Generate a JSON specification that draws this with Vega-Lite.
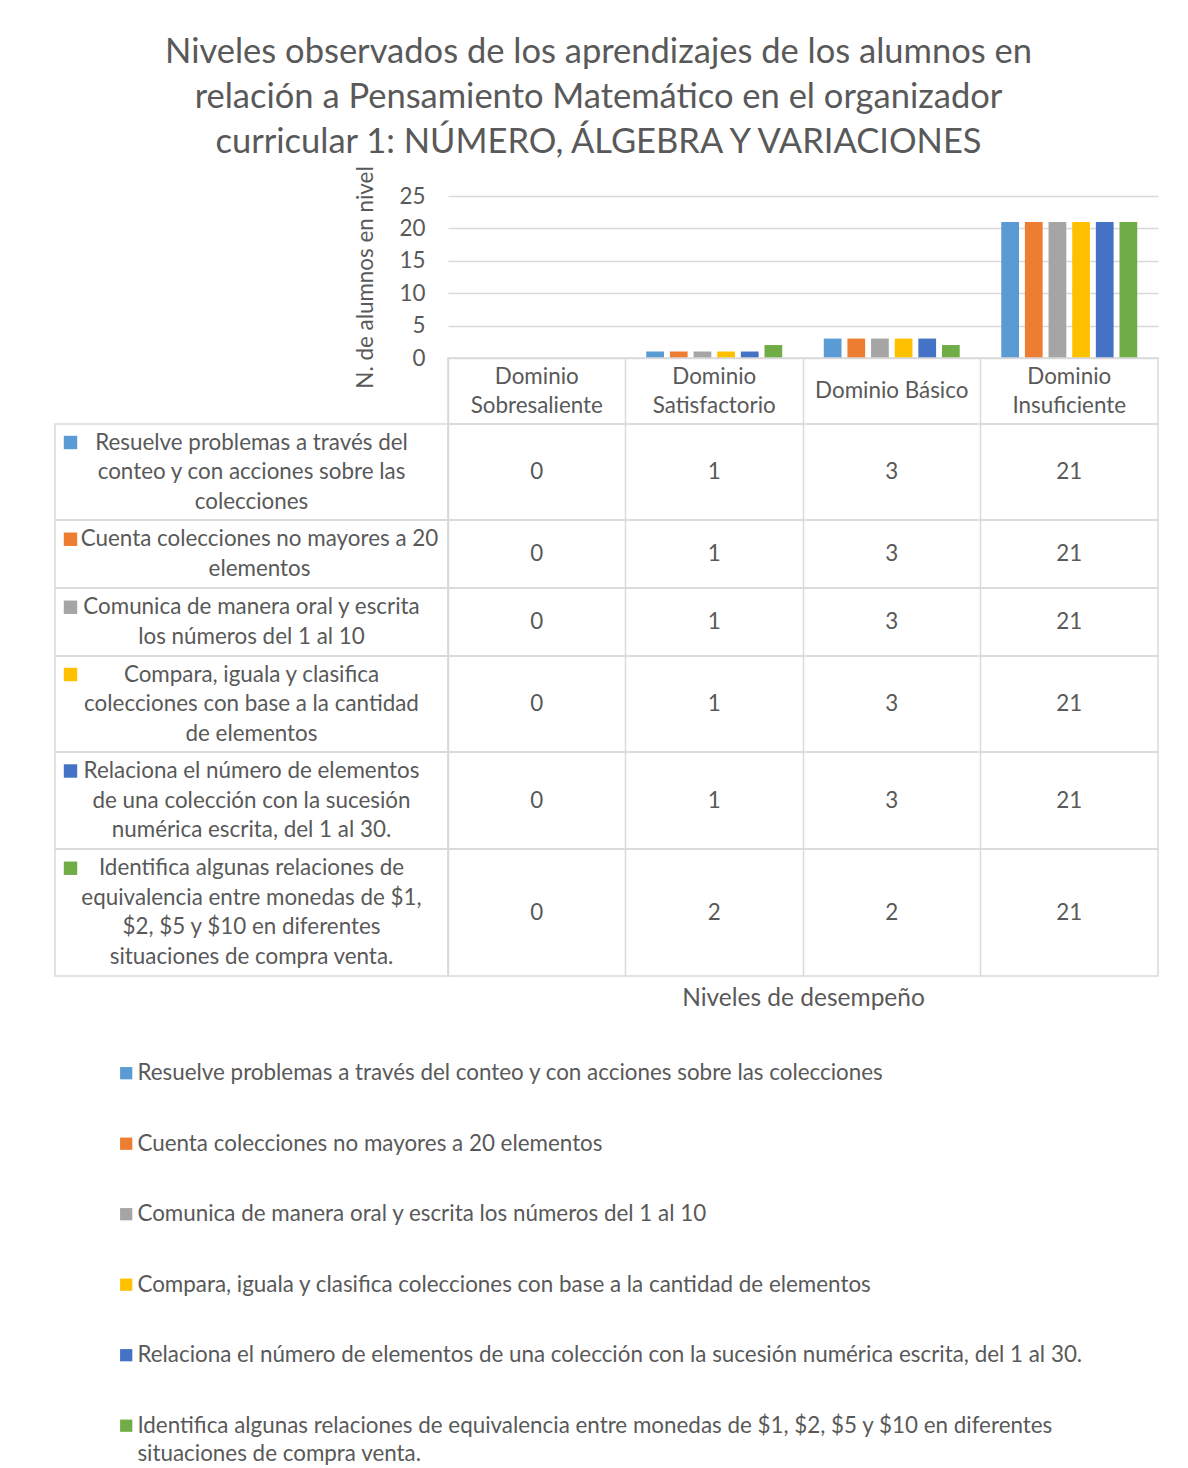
{
  "$schema": "https://vega.github.io/schema/vega-lite/v6.json",
  "padding": {"left": 54, "top": 35, "right": 20, "bottom": 0},
  "background": "white",
  "title": {
    "text": ["Niveles observados de los aprendizajes de los alumnos en", "relación a Pensamiento Matemático en el organizador", "curricular 1: NÚMERO, ÁLGEBRA Y VARIACIONES"],
    "fontSize": 34.5, "lineHeight": 45, "fontWeight": "normal", "color": "#595959", "anchor": "middle", "offset": 2, "dx": -8
  },
  "datasets": {
    "d": [
      {"serie": "Resuelve problemas a través del conteo y con acciones sobre las colecciones", "nivel": "Dominio Sobresaliente", "alumnos": 0},
      {"serie": "Resuelve problemas a través del conteo y con acciones sobre las colecciones", "nivel": "Dominio Satisfactorio", "alumnos": 1},
      {"serie": "Resuelve problemas a través del conteo y con acciones sobre las colecciones", "nivel": "Dominio Básico", "alumnos": 3},
      {"serie": "Resuelve problemas a través del conteo y con acciones sobre las colecciones", "nivel": "Dominio Insuficiente", "alumnos": 21},
      {"serie": "Cuenta colecciones no mayores a 20 elementos", "nivel": "Dominio Sobresaliente", "alumnos": 0},
      {"serie": "Cuenta colecciones no mayores a 20 elementos", "nivel": "Dominio Satisfactorio", "alumnos": 1},
      {"serie": "Cuenta colecciones no mayores a 20 elementos", "nivel": "Dominio Básico", "alumnos": 3},
      {"serie": "Cuenta colecciones no mayores a 20 elementos", "nivel": "Dominio Insuficiente", "alumnos": 21},
      {"serie": "Comunica de manera oral y escrita los números del 1 al 10", "nivel": "Dominio Sobresaliente", "alumnos": 0},
      {"serie": "Comunica de manera oral y escrita los números del 1 al 10", "nivel": "Dominio Satisfactorio", "alumnos": 1},
      {"serie": "Comunica de manera oral y escrita los números del 1 al 10", "nivel": "Dominio Básico", "alumnos": 3},
      {"serie": "Comunica de manera oral y escrita los números del 1 al 10", "nivel": "Dominio Insuficiente", "alumnos": 21},
      {"serie": "Compara, iguala y clasifica colecciones con base a la cantidad de elementos", "nivel": "Dominio Sobresaliente", "alumnos": 0},
      {"serie": "Compara, iguala y clasifica colecciones con base a la cantidad de elementos", "nivel": "Dominio Satisfactorio", "alumnos": 1},
      {"serie": "Compara, iguala y clasifica colecciones con base a la cantidad de elementos", "nivel": "Dominio Básico", "alumnos": 3},
      {"serie": "Compara, iguala y clasifica colecciones con base a la cantidad de elementos", "nivel": "Dominio Insuficiente", "alumnos": 21},
      {"serie": "Relaciona el número de elementos de una colección con la sucesión numérica escrita, del 1 al 30.", "nivel": "Dominio Sobresaliente", "alumnos": 0},
      {"serie": "Relaciona el número de elementos de una colección con la sucesión numérica escrita, del 1 al 30.", "nivel": "Dominio Satisfactorio", "alumnos": 1},
      {"serie": "Relaciona el número de elementos de una colección con la sucesión numérica escrita, del 1 al 30.", "nivel": "Dominio Básico", "alumnos": 3},
      {"serie": "Relaciona el número de elementos de una colección con la sucesión numérica escrita, del 1 al 30.", "nivel": "Dominio Insuficiente", "alumnos": 21},
      {"serie": "Identifica algunas relaciones de equivalencia entre monedas de $1, $2, $5 y $10 en diferentes situaciones de compra venta.", "nivel": "Dominio Sobresaliente", "alumnos": 0},
      {"serie": "Identifica algunas relaciones de equivalencia entre monedas de $1, $2, $5 y $10 en diferentes situaciones de compra venta.", "nivel": "Dominio Satisfactorio", "alumnos": 2},
      {"serie": "Identifica algunas relaciones de equivalencia entre monedas de $1, $2, $5 y $10 en diferentes situaciones de compra venta.", "nivel": "Dominio Básico", "alumnos": 2},
      {"serie": "Identifica algunas relaciones de equivalencia entre monedas de $1, $2, $5 y $10 en diferentes situaciones de compra venta.", "nivel": "Dominio Insuficiente", "alumnos": 21}
    ],
    "series": [
      {"serie": "Resuelve problemas a través del conteo y con acciones sobre las colecciones", "tabla": "Resuelve problemas a través del\nconteo y con acciones sobre las\ncolecciones"},
      {"serie": "Cuenta colecciones no mayores a 20 elementos", "tabla": "Cuenta colecciones no mayores a 20\nelementos"},
      {"serie": "Comunica de manera oral y escrita los números del 1 al 10", "tabla": "Comunica de manera oral y escrita\nlos números del 1 al 10"},
      {"serie": "Compara, iguala y clasifica colecciones con base a la cantidad de elementos", "tabla": "Compara, iguala y clasifica\ncolecciones con base a la cantidad\nde elementos"},
      {"serie": "Relaciona el número de elementos de una colección con la sucesión numérica escrita, del 1 al 30.", "tabla": "Relaciona el número de elementos\nde una colección con la sucesión\nnumérica escrita, del 1 al 30."},
      {"serie": "Identifica algunas relaciones de equivalencia entre monedas de $1, $2, $5 y $10 en diferentes situaciones de compra venta.", "tabla": "Identifica algunas relaciones de\nequivalencia entre monedas de $1,\n$2, $5 y $10 en diferentes\nsituaciones de compra venta."}
    ],
    "niveles": [
      {"nivel": "Dominio Sobresaliente", "encabezado": "Dominio\nSobresaliente"},
      {"nivel": "Dominio Satisfactorio", "encabezado": "Dominio\nSatisfactorio"},
      {"nivel": "Dominio Básico", "encabezado": "Dominio Básico"},
      {"nivel": "Dominio Insuficiente", "encabezado": "Dominio\nInsuficiente"}
    ]
  },
  "columns": 2,
  "spacing": 0,
  "bounds": "flush",
  "align": "each",
  "concat": [
    {
      "width": 393, "height": 162, "view": {"stroke": null},
      "data": {"values": [{}]},
      "mark": {"type": "text"},
      "encoding": {"text": {"value": ""}}
    },
    {
      "width": 710, "height": 162, "view": {"stroke": null},
      "data": {"name": "d"},
      "mark": {"type": "bar"},
      "encoding": {
        "x": {"field": "nivel", "type": "nominal", "sort": ["Dominio Sobresaliente", "Dominio Satisfactorio", "Dominio Básico", "Dominio Insuficiente"], "scale": {"paddingInner": 0.234, "paddingOuter": 0.117}, "axis": null},
        "xOffset": {"field": "serie", "type": "nominal", "sort": null, "scale": {"paddingInner": 0.25, "paddingOuter": 0, "domain": ["Resuelve problemas a través del conteo y con acciones sobre las colecciones", "Cuenta colecciones no mayores a 20 elementos", "Comunica de manera oral y escrita los números del 1 al 10", "Compara, iguala y clasifica colecciones con base a la cantidad de elementos", "Relaciona el número de elementos de una colección con la sucesión numérica escrita, del 1 al 30.", "Identifica algunas relaciones de equivalencia entre monedas de $1, $2, $5 y $10 en diferentes situaciones de compra venta."]}},
        "y": {"field": "alumnos", "type": "quantitative", "scale": {"domain": [0, 25], "nice": false},
          "axis": {"values": [0, 5, 10, 15, 20, 25], "title": "N. de alumnos en  nivel", "grid": true, "gridColor": "#d9d9d9", "domain": false, "ticks": false, "labelPadding": 23, "labelFontSize": 22.4, "labelColor": "#595959", "titleFontSize": 22.4, "titleColor": "#595959", "titleFontWeight": "normal", "titlePadding": 22}},
        "color": {"field": "serie", "type": "nominal",
          "scale": {"domain": ["Resuelve problemas a través del conteo y con acciones sobre las colecciones", "Cuenta colecciones no mayores a 20 elementos", "Comunica de manera oral y escrita los números del 1 al 10", "Compara, iguala y clasifica colecciones con base a la cantidad de elementos", "Relaciona el número de elementos de una colección con la sucesión numérica escrita, del 1 al 30.", "Identifica algunas relaciones de equivalencia entre monedas de $1, $2, $5 y $10 en diferentes situaciones de compra venta."], "range": ["#5B9BD5", "#ED7D31", "#A5A5A5", "#FFC000", "#4472C4", "#70AD47"]},
          "legend": {"orient": "none", "legendX": 60, "legendY": 866, "title": null, "symbolType": "square", "symbolSize": 150, "symbolStrokeWidth": 0, "labelFontSize": 22.4, "labelColor": "#595959", "labelLimit": 1100, "labelOffset": 0, "rowPadding": 47.5,
            "labelExpr": "datum.label == 'Identifica algunas relaciones de equivalencia entre monedas de $1, $2, $5 y $10 en diferentes situaciones de compra venta.' ? ['Identifica algunas relaciones de equivalencia entre monedas de $1, $2, $5 y $10 en diferentes', 'situaciones de compra venta.'] : datum.label"}}
      }
    },
    {
      "width": 393, "height": 66, "view": {"stroke": null},
      "data": {"values": [{}]},
      "mark": {"type": "text"},
      "encoding": {"text": {"value": ""}}
    },
    {
      "width": 710, "height": 66,
      "data": {"name": "niveles"},
      "mark": {"type": "text", "lineBreak": "\n", "fontSize": 22.4, "lineHeight": 29, "color": "#595959", "dy": {"expr": "-14.5 * (length(split(datum.encabezado, '\\n')) - 1)"}},
      "encoding": {
        "x": {"field": "nivel", "type": "nominal", "sort": ["Dominio Sobresaliente", "Dominio Satisfactorio", "Dominio Básico", "Dominio Insuficiente"], "scale": {"type": "band", "paddingInner": 0, "paddingOuter": 0}, "axis": {"grid": true, "bandPosition": 0, "gridColor": "#d9d9d9", "labels": false, "ticks": false, "domain": false, "title": null}},
        "text": {"field": "encabezado"}
      }
    },
    {
      "width": 393, "height": 96, "view": {"stroke": "#d9d9d9", "strokeWidth": 1.5},
      "data": {"name": "series"},
      "transform": [{"filter": {"field": "serie", "equal": "Resuelve problemas a través del conteo y con acciones sobre las colecciones"}}],
      "layer": [
        {"mark": {"type": "text", "lineBreak": "\n", "fontSize": 22.4, "lineHeight": 29.5, "color": "#595959", "dy": -29.5}, "encoding": {"text": {"field": "tabla"}}},
        {"mark": {"type": "point", "shape": "square", "filled": true, "size": 180, "opacity": 1, "xOffset": -181, "yOffset": -29.5},
          "encoding": {"color": {"field": "serie", "type": "nominal", "scale": {"domain": ["Resuelve problemas a través del conteo y con acciones sobre las colecciones", "Cuenta colecciones no mayores a 20 elementos", "Comunica de manera oral y escrita los números del 1 al 10", "Compara, iguala y clasifica colecciones con base a la cantidad de elementos", "Relaciona el número de elementos de una colección con la sucesión numérica escrita, del 1 al 30.", "Identifica algunas relaciones de equivalencia entre monedas de $1, $2, $5 y $10 en diferentes situaciones de compra venta."], "range": ["#5B9BD5", "#ED7D31", "#A5A5A5", "#FFC000", "#4472C4", "#70AD47"]}}}}
      ]
    },
    {
      "width": 710, "height": 96,
      "data": {"name": "d"},
      "transform": [{"filter": {"field": "serie", "equal": "Resuelve problemas a través del conteo y con acciones sobre las colecciones"}}],
      "mark": {"type": "text", "fontSize": 22.4, "color": "#595959"},
      "encoding": {
        "x": {"field": "nivel", "type": "nominal", "sort": ["Dominio Sobresaliente", "Dominio Satisfactorio", "Dominio Básico", "Dominio Insuficiente"], "scale": {"type": "band", "paddingInner": 0, "paddingOuter": 0}, "axis": {"grid": true, "bandPosition": 0, "gridColor": "#d9d9d9", "labels": false, "ticks": false, "domain": false, "title": null}},
        "text": {"field": "alumnos", "type": "quantitative"}
      }
    },
    {
      "width": 393, "height": 68, "view": {"stroke": "#d9d9d9", "strokeWidth": 1.5},
      "data": {"name": "series"},
      "transform": [{"filter": {"field": "serie", "equal": "Cuenta colecciones no mayores a 20 elementos"}}],
      "layer": [
        {"mark": {"type": "text", "lineBreak": "\n", "fontSize": 22.4, "lineHeight": 29.5, "color": "#595959", "dy": -14.75, "dx": 8}, "encoding": {"text": {"field": "tabla"}}},
        {"mark": {"type": "point", "shape": "square", "filled": true, "size": 180, "opacity": 1, "xOffset": -181, "yOffset": -14.75},
          "encoding": {"color": {"field": "serie", "type": "nominal", "scale": {"domain": ["Resuelve problemas a través del conteo y con acciones sobre las colecciones", "Cuenta colecciones no mayores a 20 elementos", "Comunica de manera oral y escrita los números del 1 al 10", "Compara, iguala y clasifica colecciones con base a la cantidad de elementos", "Relaciona el número de elementos de una colección con la sucesión numérica escrita, del 1 al 30.", "Identifica algunas relaciones de equivalencia entre monedas de $1, $2, $5 y $10 en diferentes situaciones de compra venta."], "range": ["#5B9BD5", "#ED7D31", "#A5A5A5", "#FFC000", "#4472C4", "#70AD47"]}}}}
      ]
    },
    {
      "width": 710, "height": 68,
      "data": {"name": "d"},
      "transform": [{"filter": {"field": "serie", "equal": "Cuenta colecciones no mayores a 20 elementos"}}],
      "mark": {"type": "text", "fontSize": 22.4, "color": "#595959"},
      "encoding": {
        "x": {"field": "nivel", "type": "nominal", "sort": ["Dominio Sobresaliente", "Dominio Satisfactorio", "Dominio Básico", "Dominio Insuficiente"], "scale": {"type": "band", "paddingInner": 0, "paddingOuter": 0}, "axis": {"grid": true, "bandPosition": 0, "gridColor": "#d9d9d9", "labels": false, "ticks": false, "domain": false, "title": null}},
        "text": {"field": "alumnos", "type": "quantitative"}
      }
    },
    {
      "width": 393, "height": 68, "view": {"stroke": "#d9d9d9", "strokeWidth": 1.5},
      "data": {"name": "series"},
      "transform": [{"filter": {"field": "serie", "equal": "Comunica de manera oral y escrita los números del 1 al 10"}}],
      "layer": [
        {"mark": {"type": "text", "lineBreak": "\n", "fontSize": 22.4, "lineHeight": 29.5, "color": "#595959", "dy": -14.75}, "encoding": {"text": {"field": "tabla"}}},
        {"mark": {"type": "point", "shape": "square", "filled": true, "size": 180, "opacity": 1, "xOffset": -181, "yOffset": -14.75},
          "encoding": {"color": {"field": "serie", "type": "nominal", "scale": {"domain": ["Resuelve problemas a través del conteo y con acciones sobre las colecciones", "Cuenta colecciones no mayores a 20 elementos", "Comunica de manera oral y escrita los números del 1 al 10", "Compara, iguala y clasifica colecciones con base a la cantidad de elementos", "Relaciona el número de elementos de una colección con la sucesión numérica escrita, del 1 al 30.", "Identifica algunas relaciones de equivalencia entre monedas de $1, $2, $5 y $10 en diferentes situaciones de compra venta."], "range": ["#5B9BD5", "#ED7D31", "#A5A5A5", "#FFC000", "#4472C4", "#70AD47"]}}}}
      ]
    },
    {
      "width": 710, "height": 68,
      "data": {"name": "d"},
      "transform": [{"filter": {"field": "serie", "equal": "Comunica de manera oral y escrita los números del 1 al 10"}}],
      "mark": {"type": "text", "fontSize": 22.4, "color": "#595959"},
      "encoding": {
        "x": {"field": "nivel", "type": "nominal", "sort": ["Dominio Sobresaliente", "Dominio Satisfactorio", "Dominio Básico", "Dominio Insuficiente"], "scale": {"type": "band", "paddingInner": 0, "paddingOuter": 0}, "axis": {"grid": true, "bandPosition": 0, "gridColor": "#d9d9d9", "labels": false, "ticks": false, "domain": false, "title": null}},
        "text": {"field": "alumnos", "type": "quantitative"}
      }
    },
    {
      "width": 393, "height": 96, "view": {"stroke": "#d9d9d9", "strokeWidth": 1.5},
      "data": {"name": "series"},
      "transform": [{"filter": {"field": "serie", "equal": "Compara, iguala y clasifica colecciones con base a la cantidad de elementos"}}],
      "layer": [
        {"mark": {"type": "text", "lineBreak": "\n", "fontSize": 22.4, "lineHeight": 29.5, "color": "#595959", "dy": -29.5}, "encoding": {"text": {"field": "tabla"}}},
        {"mark": {"type": "point", "shape": "square", "filled": true, "size": 180, "opacity": 1, "xOffset": -181, "yOffset": -29.5},
          "encoding": {"color": {"field": "serie", "type": "nominal", "scale": {"domain": ["Resuelve problemas a través del conteo y con acciones sobre las colecciones", "Cuenta colecciones no mayores a 20 elementos", "Comunica de manera oral y escrita los números del 1 al 10", "Compara, iguala y clasifica colecciones con base a la cantidad de elementos", "Relaciona el número de elementos de una colección con la sucesión numérica escrita, del 1 al 30.", "Identifica algunas relaciones de equivalencia entre monedas de $1, $2, $5 y $10 en diferentes situaciones de compra venta."], "range": ["#5B9BD5", "#ED7D31", "#A5A5A5", "#FFC000", "#4472C4", "#70AD47"]}}}}
      ]
    },
    {
      "width": 710, "height": 96,
      "data": {"name": "d"},
      "transform": [{"filter": {"field": "serie", "equal": "Compara, iguala y clasifica colecciones con base a la cantidad de elementos"}}],
      "mark": {"type": "text", "fontSize": 22.4, "color": "#595959"},
      "encoding": {
        "x": {"field": "nivel", "type": "nominal", "sort": ["Dominio Sobresaliente", "Dominio Satisfactorio", "Dominio Básico", "Dominio Insuficiente"], "scale": {"type": "band", "paddingInner": 0, "paddingOuter": 0}, "axis": {"grid": true, "bandPosition": 0, "gridColor": "#d9d9d9", "labels": false, "ticks": false, "domain": false, "title": null}},
        "text": {"field": "alumnos", "type": "quantitative"}
      }
    },
    {
      "width": 393, "height": 97, "view": {"stroke": "#d9d9d9", "strokeWidth": 1.5},
      "data": {"name": "series"},
      "transform": [{"filter": {"field": "serie", "equal": "Relaciona el número de elementos de una colección con la sucesión numérica escrita, del 1 al 30."}}],
      "layer": [
        {"mark": {"type": "text", "lineBreak": "\n", "fontSize": 22.4, "lineHeight": 29.5, "color": "#595959", "dy": -29.5}, "encoding": {"text": {"field": "tabla"}}},
        {"mark": {"type": "point", "shape": "square", "filled": true, "size": 180, "opacity": 1, "xOffset": -181, "yOffset": -29.5},
          "encoding": {"color": {"field": "serie", "type": "nominal", "scale": {"domain": ["Resuelve problemas a través del conteo y con acciones sobre las colecciones", "Cuenta colecciones no mayores a 20 elementos", "Comunica de manera oral y escrita los números del 1 al 10", "Compara, iguala y clasifica colecciones con base a la cantidad de elementos", "Relaciona el número de elementos de una colección con la sucesión numérica escrita, del 1 al 30.", "Identifica algunas relaciones de equivalencia entre monedas de $1, $2, $5 y $10 en diferentes situaciones de compra venta."], "range": ["#5B9BD5", "#ED7D31", "#A5A5A5", "#FFC000", "#4472C4", "#70AD47"]}}}}
      ]
    },
    {
      "width": 710, "height": 97,
      "data": {"name": "d"},
      "transform": [{"filter": {"field": "serie", "equal": "Relaciona el número de elementos de una colección con la sucesión numérica escrita, del 1 al 30."}}],
      "mark": {"type": "text", "fontSize": 22.4, "color": "#595959"},
      "encoding": {
        "x": {"field": "nivel", "type": "nominal", "sort": ["Dominio Sobresaliente", "Dominio Satisfactorio", "Dominio Básico", "Dominio Insuficiente"], "scale": {"type": "band", "paddingInner": 0, "paddingOuter": 0}, "axis": {"grid": true, "bandPosition": 0, "gridColor": "#d9d9d9", "labels": false, "ticks": false, "domain": false, "title": null}},
        "text": {"field": "alumnos", "type": "quantitative"}
      }
    },
    {
      "width": 393, "height": 127, "view": {"stroke": "#d9d9d9", "strokeWidth": 1.5},
      "data": {"name": "series"},
      "transform": [{"filter": {"field": "serie", "equal": "Identifica algunas relaciones de equivalencia entre monedas de $1, $2, $5 y $10 en diferentes situaciones de compra venta."}}],
      "layer": [
        {"mark": {"type": "text", "lineBreak": "\n", "fontSize": 22.4, "lineHeight": 29.5, "color": "#595959", "dy": -44.25}, "encoding": {"text": {"field": "tabla"}}},
        {"mark": {"type": "point", "shape": "square", "filled": true, "size": 180, "opacity": 1, "xOffset": -181, "yOffset": -44.25},
          "encoding": {"color": {"field": "serie", "type": "nominal", "scale": {"domain": ["Resuelve problemas a través del conteo y con acciones sobre las colecciones", "Cuenta colecciones no mayores a 20 elementos", "Comunica de manera oral y escrita los números del 1 al 10", "Compara, iguala y clasifica colecciones con base a la cantidad de elementos", "Relaciona el número de elementos de una colección con la sucesión numérica escrita, del 1 al 30.", "Identifica algunas relaciones de equivalencia entre monedas de $1, $2, $5 y $10 en diferentes situaciones de compra venta."], "range": ["#5B9BD5", "#ED7D31", "#A5A5A5", "#FFC000", "#4472C4", "#70AD47"]}}}}
      ]
    },
    {
      "width": 710, "height": 127,
      "data": {"name": "d"},
      "transform": [{"filter": {"field": "serie", "equal": "Identifica algunas relaciones de equivalencia entre monedas de $1, $2, $5 y $10 en diferentes situaciones de compra venta."}}],
      "mark": {"type": "text", "fontSize": 22.4, "color": "#595959"},
      "encoding": {
        "x": {"field": "nivel", "type": "nominal", "sort": ["Dominio Sobresaliente", "Dominio Satisfactorio", "Dominio Básico", "Dominio Insuficiente"], "scale": {"type": "band", "paddingInner": 0, "paddingOuter": 0}, "axis": {"grid": true, "bandPosition": 0, "gridColor": "#d9d9d9", "labels": false, "ticks": false, "domain": false, "title": "Niveles de desempeño", "titleFontSize": 24.5, "titleFontWeight": "normal", "titleColor": "#595959", "titlePadding": 10}},
        "text": {"field": "alumnos", "type": "quantitative"}
      }
    }
  ],
  "config": {
    "font": "Lato",
    "view": {"stroke": "#d9d9d9", "strokeWidth": 1.5},
    "axis": {"gridWidth": 1.5},
    "style": {"guide-label": {"lineHeight": 28}}
  }
}
